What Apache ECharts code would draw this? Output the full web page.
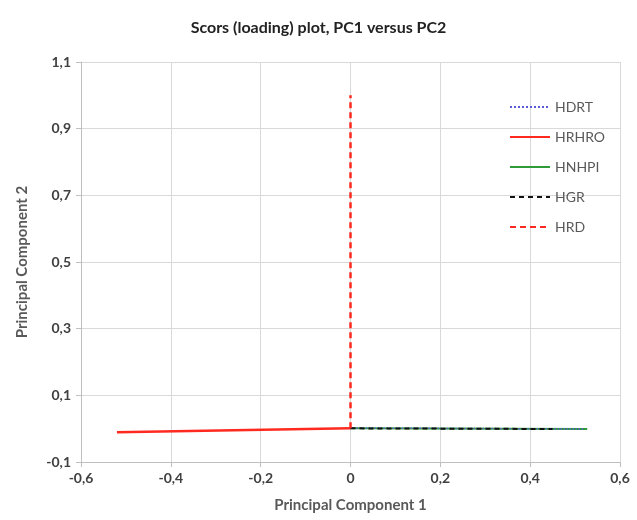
<!DOCTYPE html>
<html>
<head>
<meta charset="utf-8">
<script src="https://cdn.jsdelivr.net/npm/echarts@6/dist/echarts.min.js"></script>
<style>
  html, body { margin: 0; padding: 0; background: #fff; }
  #chart { width: 637px; height: 520px; }
</style>
</head>
<body>
<div id="chart"></div>
<script>
// loading lines, each from the origin out to its end point (PC1, PC2)
var seriesNames = ['HDRT', 'HRHRO', 'HNHPI', 'HGR', 'HRD'];
var hdrt  = [[0, 0.002], [0.52, -0.001]];
var hrhro = [[-0.52, -0.011], [0, 0.001]];
var hnhpi = [[0, 0.001], [0.527, -0.001]];
var hgr   = [[0, 0.001], [0.45, -0.001]];
var hrd   = [[0, 0.001], [0, 1.0]];

var xTicks = [-0.6, -0.4, -0.2, 0, 0.2, 0.4, 0.6];
var yTicks = [-0.1, 0.1, 0.3, 0.5, 0.7, 0.9, 1.1];

var font = 'Lato';
function comma(v) {
  var s = String(Math.round(v * 10) / 10);
  return s.replace('.', ',');
}

var myChart = echarts.init(document.getElementById('chart'));
var option = {
  backgroundColor: '#fff',
  animation: false,
  title: {
    text: 'Scors (loading) plot, PC1 versus PC2',
    left: 'center',
    top: 15,
    textStyle: { fontFamily: font, fontSize: 16, fontWeight: 'bold', color: '#222' }
  },
  legend: {
    orient: 'vertical',
    left: 504,
    top: 95,
    itemWidth: 40,
    itemHeight: 14,
    itemGap: 16,
    textStyle: { fontFamily: font, fontSize: 14, color: '#595959' },
    data: seriesNames
  },
  grid: { left: 81, right: 17, top: 62, bottom: 58 },
  xAxis: {
    type: 'value',
    min: xTicks[0],
    max: xTicks[xTicks.length - 1],
    interval: 0.2,
    name: 'Principal Component 1',
    nameLocation: 'middle',
    nameGap: 36,
    nameTextStyle: { fontFamily: font, fontSize: 15, fontWeight: 'bold', color: '#595959' },
    axisLine: { onZero: false, lineStyle: { color: '#bfbfbf' } },
    axisTick: { show: true, length: 5, lineStyle: { color: '#bfbfbf' } },
    axisLabel: {
      margin: 9,
      fontFamily: font, fontSize: 14, fontWeight: 'bold', color: '#404040',
      formatter: comma
    },
    splitLine: { lineStyle: { color: '#d9d9d9' } }
  },
  yAxis: {
    type: 'value',
    min: yTicks[0],
    max: yTicks[yTicks.length - 1],
    interval: 0.2,
    name: 'Principal Component 2',
    nameLocation: 'middle',
    nameGap: 51,
    nameTextStyle: { fontFamily: font, fontSize: 15, fontWeight: 'bold', color: '#595959' },
    axisLine: { show: true, onZero: false, lineStyle: { color: '#bfbfbf' } },
    axisTick: { show: true, length: 5, lineStyle: { color: '#bfbfbf' } },
    axisLabel: {
      margin: 10,
      fontFamily: font, fontSize: 14, fontWeight: 'bold', color: '#404040',
      formatter: comma
    },
    splitLine: { lineStyle: { color: '#d9d9d9' } }
  },
  series: [
    {
      name: 'HRHRO', type: 'line', data: hrhro, symbol: 'none', z: 2,
      itemStyle: { color: '#ff2a1f', opacity: 0 },
      lineStyle: { color: '#ff2a1f', width: 2.5 }
    },
    {
      name: 'HNHPI', type: 'line', data: hnhpi, symbol: 'none', z: 2,
      itemStyle: { color: '#2e9b36', opacity: 0 },
      lineStyle: { color: '#2e9b36', width: 2 }
    },
    {
      name: 'HDRT', type: 'line', data: hdrt, symbol: 'none', z: 3,
      itemStyle: { color: '#5a5ad8', opacity: 0 },
      lineStyle: { color: '#5a5ad8', width: 1.5, type: 'dotted' }
    },
    {
      name: 'HGR', type: 'line', data: hgr, symbol: 'none', z: 4,
      itemStyle: { color: '#111', opacity: 0 },
      lineStyle: { color: '#111', width: 2, type: [5, 4] }
    },
    {
      name: 'HRD', type: 'line', data: hrd, symbol: 'none', z: 4,
      itemStyle: { color: '#ff2a1f', opacity: 0 },
      lineStyle: { color: '#ff2a1f', width: 2.5, type: [6, 4] }
    }
  ]
};
myChart.setOption(option, true);
</script>
</body>
</html>
